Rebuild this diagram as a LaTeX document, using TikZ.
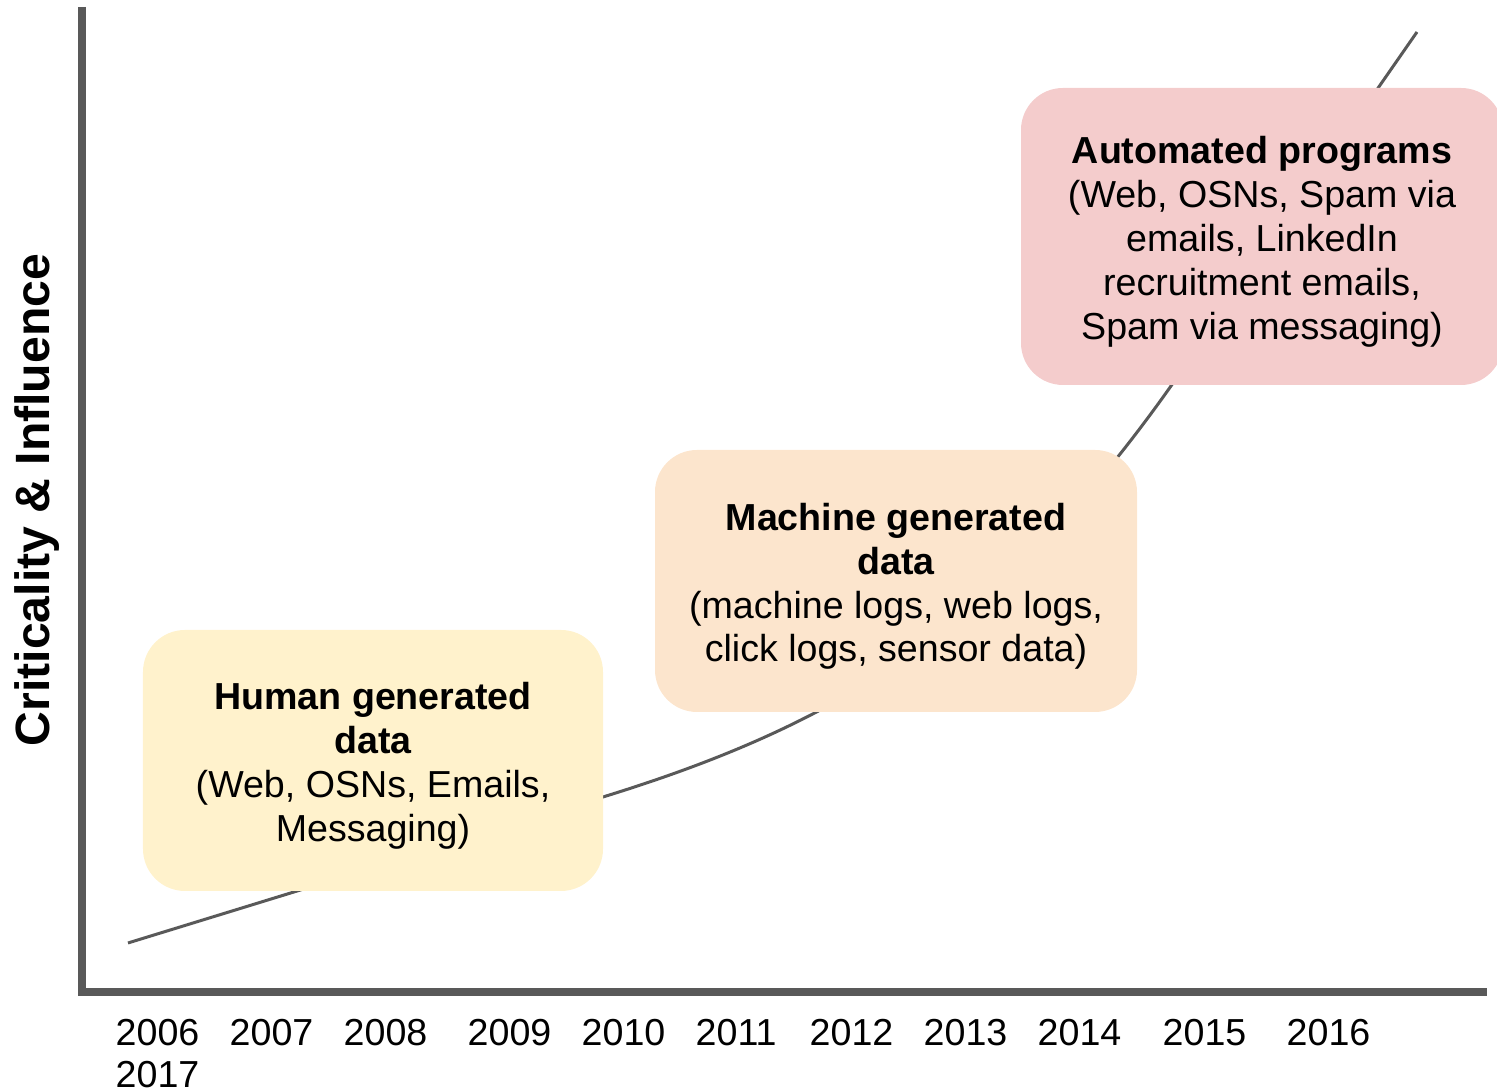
\documentclass[tikz,border=0pt]{standalone}
\usepackage{fontspec}
\setmainfont{Liberation Sans}
\usetikzlibrary{calc}
\definecolor{axisgray}{HTML}{595959}
\definecolor{humanfill}{HTML}{FFF2CC}
\definecolor{machinefill}{HTML}{FCE5CD}
\definecolor{autofill}{HTML}{F4CCCC}
\def\topstrut{\rule{0pt}{0.38cm}}
\tikzset{
	stagebox/.style={rounded corners=0.42cm, align=center, inner sep=0pt,
		font=\fontsize{10.7}{12.5}\selectfont},
	yearlabel/.style={anchor=base west, inner sep=0pt, font=\fontsize{10.7}{12.5}\selectfont}
}

\begin{document}
\begin{tikzpicture}
		%%%%% START %%%%%
		\useasboundingbox (0, 0) rectangle (14.97, 10.92);
		
		% axes
		\draw[line width=0.08cm, color=axisgray] (0.82, 10.85) -- (0.82, 1.00) -- (14.87, 1.00);
		\node[rotate=90, anchor=base, inner sep=0pt, font=\fontsize{13.7}{16}\selectfont\bfseries] (ylabel) at (0.50, 5.92) {Criticality \& Influence};
		
		% growth curve
		\draw[line width=0.03cm, color=axisgray] (1.28, 1.49) -- (6.03, 2.95) .. controls (8.3, 3.65) and (10.0, 4.6) .. (11.78, 7.16) -- (14.17, 10.60);
		
		% stages
		\node[stagebox, fill=humanfill, minimum width=4.60cm, minimum height=2.61cm] (human) at (3.73, 3.315) {\topstrut\textbf{Human generated}\\\textbf{data}\\(Web, OSNs, Emails,\\Messaging)};
		\node[stagebox, fill=machinefill, minimum width=4.82cm, minimum height=2.62cm] (machine) at (8.96, 5.11) {\topstrut\textbf{Machine generated}\\\textbf{data}\\(machine logs, web logs,\\click logs, sensor data)};
		\node[stagebox, fill=autofill, minimum width=4.82cm, minimum height=2.97cm] (auto) at (12.62, 8.555) {\topstrut\textbf{Automated programs}\\(Web, OSNs, Spam via\\emails, LinkedIn\\recruitment emails,\\Spam via messaging)};
		
		% years
		\foreach \yr/\xx in {2006/1.15, 2007/2.29, 2008/3.43, 2009/4.67, 2010/5.81, 2011/6.95, 2012/8.09, 2013/9.23, 2014/10.37, 2015/11.62, 2016/12.86}
			\node[yearlabel] (y\yr) at (\xx, 0.46) {\yr};
		\node[yearlabel] (y2017) at (1.15, 0.04) {2017};
		
		%%%%% END %%%%%
	\end{tikzpicture}
\end{document}
